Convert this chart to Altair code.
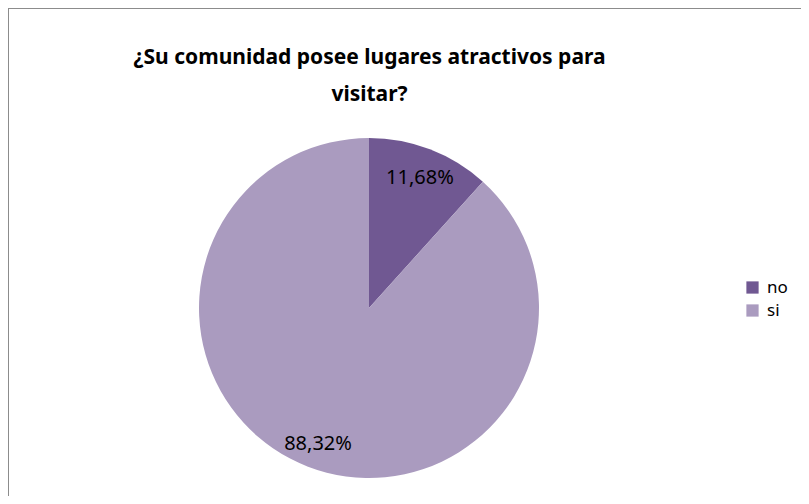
import altair as alt
import pandas as pd

categories = ["no", "si"]
values = [11.68, 88.32]
labels = ["11,68%", "88,32%"]
colors = ["#705892", "#AA9BBF"]

df = pd.DataFrame({"cat": categories, "val": values, "lab": labels})

frame = alt.Chart(pd.DataFrame({"k": [0]})).mark_rect(
    filled=False, stroke="#8c8c8c", strokeWidth=2
).encode(
    x=alt.value(0), y=alt.value(0), x2=alt.value(820), y2=alt.value(520)
)

base = alt.Chart(df).encode(
    theta=alt.Theta("val:Q", stack=True),
    order=alt.Order("cat:N"),
)

pie = base.mark_arc(radius=170, x=361, y=300).encode(
    color=alt.Color(
        "cat:N",
        scale=alt.Scale(domain=categories, range=colors),
        legend=alt.Legend(
            title=None, orient="none", legendX=736, legendY=271,
            symbolType="square", symbolSize=150, symbolStrokeWidth=0,
            labelFont="Noto Sans", labelFontSize=17, labelColor="#000000",
            rowPadding=5, symbolOffset=0, labelOffset=6,
        ),
    )
)

text = base.mark_text(radius=142, x=361, y=300, dy=3, font="Noto Sans", fontSize=20, color="#000000").encode(
    text="lab:N"
)

chart = (
    alt.layer(frame, pie, text)
    .properties(
        width=793,
        height=488,
        padding=0,
        autosize=alt.AutoSizeParams(type="none"),
        title=alt.TitleParams(
            text=["¿Su comunidad posee lugares atractivos para", "visitar?"],
            font="Noto Sans", fontSize=21, fontWeight="bold", color="#000000",
            anchor="middle", frame="group", dx=-35, offset=-98, lineHeight=37,
        ),
    )
    .configure_view(stroke=None)
)

chart.save("out.html", embed_options={"renderer": "svg", "actions": False})
